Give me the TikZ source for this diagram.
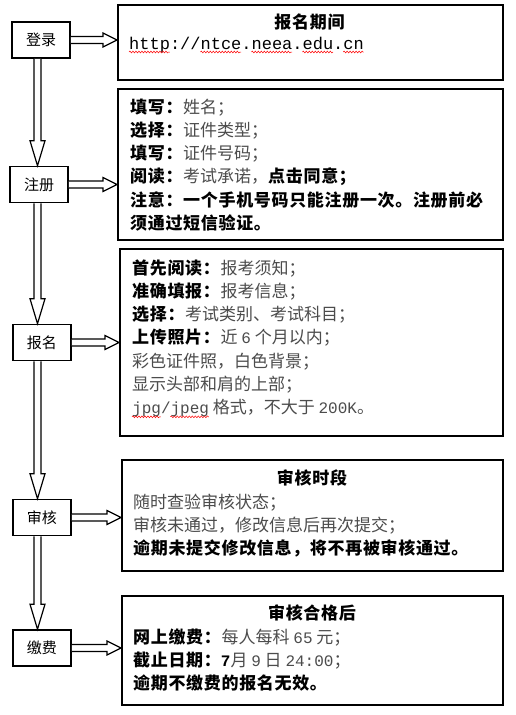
\documentclass[tikz,border=0pt]{standalone}
\usepackage{fontspec}
\usetikzlibrary{calc,decorations.pathmorphing}
\newfontfamily\cjk{Noto Sans CJK SC}[BoldFeatures={LetterSpace=4}]
\newfontfamily\asc{Liberation Mono}
\newcommand\sasc{\asc\fontsize{16}{23.3}\selectfont}
\definecolor{txtgray}{gray}{0.3}
\newcommand\rg[1]{\textcolor{txtgray}{#1}}
\newcommand\varr[2]{\draw[blk] let \p1=(axis |- #1.south), \p2=(axis |- #2.north) in (\x1-3.5pt,\y1) -- (\x1-3.5pt,\y2+25pt) -- (\x1-7.5pt,\y2+25pt) -- (\x1,\y2) -- (\x1+7.5pt,\y2+25pt) -- (\x1+3.5pt,\y2+25pt) -- (\x1+3.5pt,\y1);}
\newcommand\harr[2]{\draw[blk] let \p1=(#1.east), \p2=(#2.west |- #1.east) in (\x1,\y1+3.5pt) -- (\x2-14pt,\y1+3.5pt) -- (\x2-14pt,\y1+7pt) -- (\x2,\y1) -- (\x2-14pt,\y1-7pt) -- (\x2-14pt,\y1-3.5pt) -- (\x1,\y1-3.5pt);}
\begin{document}
\begin{tikzpicture}[x=1pt,y=-1pt,
 lbox/.style={draw, line width=1.6pt, minimum width=58pt, minimum height=36pt, inner sep=0pt, font=\cjk\fontsize{15}{18}\selectfont},
 rbox/.style={draw, line width=1.8pt, anchor=north west, inner sep=0pt},
 txt/.style={anchor=base west, align=left, inner sep=0pt, font=\cjk\fontsize{17}{23.3}\selectfont},
 ttl/.style={anchor=base, inner sep=0pt, font=\cjk\bfseries\fontsize{17}{20}\selectfont},
 blk/.style={draw, line width=1.2pt, fill=white, line join=miter},
 wave/.style={draw=red, line width=0.5pt, decorate, decoration={snake, amplitude=0.9pt, segment length=3pt}}]
\useasboundingbox[fill=white] (0,0) rectangle (516,715);
\coordinate (axis) at (37.5,0);
% left steps
\node[lbox] (s1) at (41,40) {登录};
\node[lbox] (s2) at (39,184.5) {注册};
\node[lbox] (s3) at (42,342.5) {报名};
\node[lbox] (s4) at (42,517.5) {审核};
\node[lbox] (s5) at (42,648) {缴费};
% right boxes
\node[rbox, minimum width=385pt, minimum height=75pt] (r1) at (117,4) {};
\node[rbox, minimum width=385pt, minimum height=151pt] (r2) at (117,88) {};
\node[rbox, minimum width=383pt, minimum height=187pt] (r3) at (119,248) {};
\node[rbox, minimum width=381pt, minimum height=111pt] (r4) at (121,459) {};
\node[rbox, minimum width=381pt, minimum height=109pt] (r5) at (121,595) {};
% texts (base anchor = baseline of the last line)
\node[ttl] (t1) at (309.5,28) {报名期间};
\node[anchor=base west, inner sep=0pt, font=\asc\fontsize{17}{20}\selectfont] (u1) at (129,49) {http://ntce.neea.edu.cn};
\node[txt] (x2) at (130,229.5) {\textbf{填写：}\rg{姓名；}\\
\textbf{选择：}\rg{证件类型；}\\
\textbf{填写：}\rg{证件号码；}\\
\textbf{阅读：}\rg{考试承诺，}\textbf{点击同意；}\\
\textbf{注意：一个手机号码只能注册一次。注册前必}\\
\textbf{须通过短信验证。}};
\node[txt] (x3) at (132,413.8) {\textbf{首先阅读：}\rg{报考须知；}\\
\textbf{准确填报：}\rg{报考信息；}\\
\textbf{选择：}\rg{考试类别、考试科目；}\\
\textbf{上传照片：}\rg{近 {\sasc 6} 个月以内；}\\
\rg{彩色证件照，白色背景；}\\
\rg{显示头部和肩的上部；}\\
\rg{{\sasc jpg/jpeg} 格式，不大于 {\sasc 200K}。}};
\node[ttl] (t4) at (312,484) {审核时段};
\node[txt] (x4) at (133,554.6) {\rg{随时查验审核状态；}\\
\rg{审核未通过，修改信息后再次提交；}\\
\textbf{逾期未提交修改信息，将不再被审核通过。}};
\node[ttl] (t5) at (312,619) {审核合格后};
\node[txt] (x5) at (133,689.6) {\textbf{网上缴费：}\rg{每人每科 {\sasc 65} 元；}\\
\textbf{截止日期：{\sasc 7}}\rg{ 月 {\sasc 9} 日 {\sasc 24:00}；}\\
\textbf{逾期不缴费的报名无效。}};
% spell-check waves
\draw[wave] ($(u1.base west)+(0,3)$) -- +(40.8,0);
\draw[wave] ($(u1.base west)+(71.4,3)$) -- +(40.8,0);
\draw[wave] ($(u1.base west)+(122.4,3)$) -- +(40.8,0);
\draw[wave] ($(u1.base west)+(173.4,3)$) -- +(30.6,0);
\draw[wave] ($(u1.base west)+(214.2,3)$) -- +(20.4,0);
\draw[wave] ($(x3.base west)+(0,3)$) -- +(28.8,0);
\draw[wave] ($(x3.base west)+(38.4,3)$) -- +(38.4,0);
% arrows
\varr{s1}{s2}
\varr{s2}{s3}
\varr{s3}{s4}
\varr{s4}{s5}
\harr{s1}{r1}
\harr{s2}{r2}
\harr{s3}{r3}
\harr{s4}{r4}
\harr{s5}{r5}
\end{tikzpicture}
\end{document}
